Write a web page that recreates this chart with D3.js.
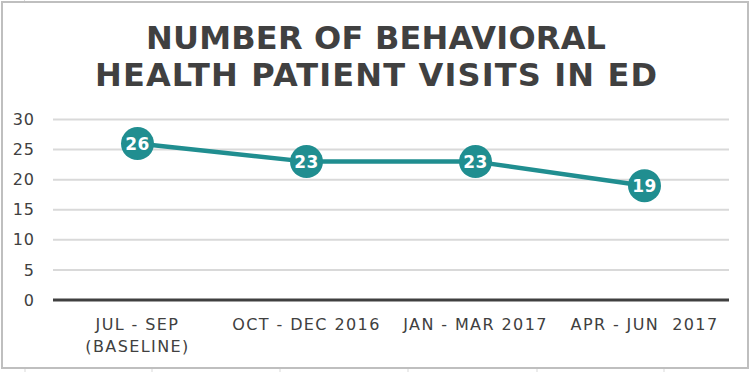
<!DOCTYPE html>
<html>
<head>
<meta charset="utf-8">
<script src="https://cdn.jsdelivr.net/npm/d3@7"></script>
<style>
  html, body { margin: 0; padding: 0; background: #fff; }
  svg { display: block; font-family: "DejaVu Sans", Verdana, sans-serif; }
</style>
</head>
<body>
<div id="chart"></div>
<script>
// Dados do gráfico
const categories = ['JUL - SEP\n(BASELINE)', 'OCT - DEC 2016', 'JAN - MAR 2017', 'APR - JUN  2017'];
const visits = [26, 23, 23, 19];
const yTicks = [0, 5, 10, 15, 20, 25, 30];
const titleLines = ['NUMBER OF BEHAVIORAL', 'HEALTH PATIENT VISITS IN ED'];

const width = 752, height = 372;
const margin = { top: 119.5, right: 23, bottom: 72, left: 53 };
const teal = '#208e90';
const ink = '#404040';
const font = '"DejaVu Sans", Verdana, sans-serif';

const svg = d3.select('#chart')
  .append('svg')
  .attr('width', width)
  .attr('height', height);

// Linhas das células da folha de cálculo (fundo)
const cellX = [25, 152, 280, 408, 537, 664];
svg.append('g').selectAll('line')
  .data(cellX)
  .enter().append('line')
  .attr('x1', d => d).attr('x2', d => d)
  .attr('y1', 368).attr('y2', height)
  .attr('stroke', '#d9d9d9').attr('stroke-width', 1);
svg.append('line')
  .attr('x1', 24.5).attr('x2', 24.5).attr('y1', 0).attr('y2', 2)
  .attr('stroke', '#d9d9d9');

// Moldura do gráfico
svg.append('rect')
  .attr('x', 2).attr('y', 2)
  .attr('width', 746).attr('height', 366)
  .attr('fill', '#fff')
  .attr('stroke', '#bfbfbf')
  .attr('stroke-width', 2);

// Título (larguras ajustadas ao original)
const titleWidths = [460, 562];
svg.append('g').selectAll('text')
  .data(titleLines)
  .enter().append('text')
  .attr('x', 376)
  .attr('y', (d, i) => 49 + i * 37)
  .attr('text-anchor', 'middle')
  .attr('font-weight', 'bold')
  .attr('font-size', 32)
  .attr('fill', ink)
  .attr('textLength', (d, i) => titleWidths[i])
  .attr('lengthAdjust', 'spacing')
  .text(d => d);

const x = d3.scaleBand()
  .domain(categories)
  .range([margin.left, width - margin.right])
  .padding(0);

const y = d3.scaleLinear()
  .domain([0, 30])
  .range([height - margin.bottom, margin.top]);

const cx = d => x(d) + x.bandwidth() / 2;

// Grelha horizontal
svg.append('g').selectAll('line')
  .data(yTicks.filter(t => t > 0))
  .enter().append('line')
  .attr('x1', margin.left).attr('x2', width - margin.right)
  .attr('y1', d => y(d)).attr('y2', d => y(d))
  .attr('stroke', '#d9d9d9')
  .attr('stroke-width', 2);

// Eixo Y
const yAxis = svg.append('g')
  .attr('transform', `translate(${margin.left},0)`)
  .call(d3.axisLeft(y).tickValues(yTicks).tickSize(0).tickPadding(18));
yAxis.select('.domain').remove();
yAxis.selectAll('text')
  .attr('font-family', font)
  .attr('font-size', 16)
  .attr('letter-spacing', 1)
  .attr('fill', ink);

// Linha do zero
svg.append('line')
  .attr('x1', margin.left).attr('x2', width - margin.right)
  .attr('y1', y(0)).attr('y2', y(0))
  .attr('stroke', ink)
  .attr('stroke-width', 3);

// Eixo X (rótulos em várias linhas)
const xAxis = svg.append('g')
  .attr('transform', `translate(0,${y(0)})`)
  .call(d3.axisBottom(x).tickSize(0).tickPadding(0));
xAxis.select('.domain').remove();
xAxis.selectAll('text')
  .attr('font-family', font)
  .attr('font-size', 16)
  .attr('letter-spacing', 1.4)
  .attr('fill', ink)
  .attr('y', 30)
  .attr('dy', null)
  .style('white-space', 'pre')
  .each(function (d) {
    const t = d3.select(this);
    t.text(null);
    d.split('\n').forEach((part, i) => {
      t.append('tspan')
        .attr('x', 0)
        .attr('dy', i === 0 ? 0 : 22)
        .text(part);
    });
  });

// Linha da série
const line = d3.line()
  .x((d, i) => cx(categories[i]))
  .y(d => y(d));

svg.append('path')
  .attr('d', line(visits))
  .attr('fill', 'none')
  .attr('stroke', teal)
  .attr('stroke-width', 4.5)
  .attr('stroke-linejoin', 'round');

// Marcadores com rótulos
const pts = svg.append('g').selectAll('g')
  .data(visits)
  .enter().append('g')
  .attr('transform', (d, i) => `translate(${cx(categories[i])},${y(d)})`);

pts.append('circle')
  .attr('r', 16.5)
  .attr('fill', teal);

pts.append('text')
  .attr('text-anchor', 'middle')
  .attr('dy', '0.36em')
  .attr('font-weight', 'bold')
  .attr('font-size', 17)
  .attr('letter-spacing', 0.5)
  .attr('fill', '#fff')
  .text(d => d);
</script>
</body>
</html>
